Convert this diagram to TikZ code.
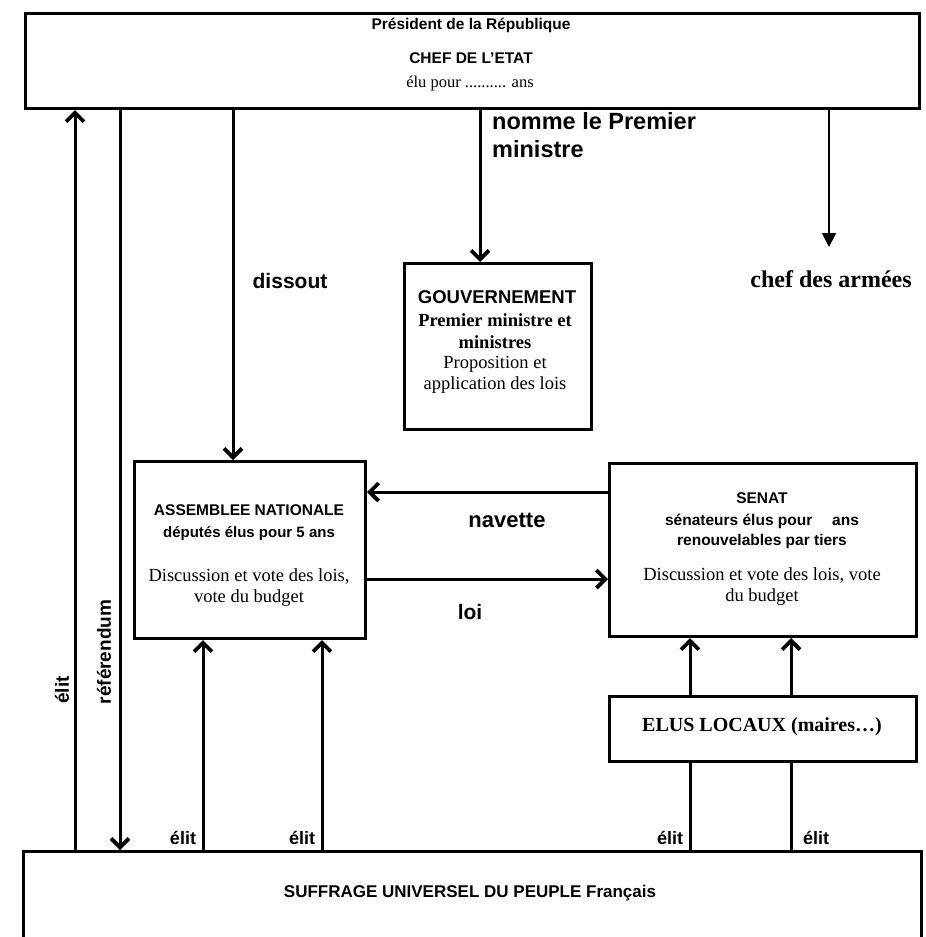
\documentclass[tikz,border=0pt]{standalone}
\usepackage{fontspec}
\setmainfont{Liberation Serif}
\setsansfont{Liberation Sans}
\usetikzlibrary{arrows.meta,calc}
\begin{document}
\begin{tikzpicture}[x=1pt,y=-1pt]
\tikzset{
  box/.style={draw, line width=3pt, inner sep=0pt, anchor=north west},
  arr/.style={line width=3pt, -{Straight Barb[length=9pt,width=18pt,line width=3.8pt]}},
  plain/.style={line width=3pt},
  sanslbl/.style={inner sep=0pt, font=\sffamily\bfseries\fontsize{15}{18}\selectfont},
  sansbig/.style={inner sep=0pt, font=\sffamily\bfseries\fontsize{21}{27}\selectfont},
  sansmid/.style={inner sep=0pt, font=\sffamily\bfseries\fontsize{15.5}{21}\selectfont},
  serif/.style={inner sep=0pt, align=center, font=\fontsize{18.5}{21}\selectfont},
  serifb/.style={inner sep=0pt, align=center, font=\bfseries\fontsize{18.5}{22}\selectfont}
}
\useasboundingbox (0,0) rectangle (926,937);
\fill[white] (0,0) rectangle (926,937);

% boxes
\node[box, minimum width=894pt, minimum height=95pt] (pres) at (24,12) {};
\node[box, minimum width=187pt, minimum height=166pt] (gouv) at (403,262) {};
\node[box, minimum width=231pt, minimum height=177pt] (an) at (133,460) {};
\node[box, minimum width=307pt, minimum height=173pt] (senat) at (608,462) {};
\node[box, minimum width=307pt, minimum height=65pt] (elus) at (608,695) {};
\node[box, minimum width=898pt, minimum height=120pt] (peuple) at (22,850) {};

% texts in boxes
\node[sanslbl, font=\sffamily\bfseries\fontsize{15.5}{18}\selectfont] (presT1) at (471,25) {Président de la République};
\node[sanslbl, font=\sffamily\bfseries\fontsize{15.5}{18}\selectfont] (presT2) at (471,58) {CHEF DE L'ETAT};
\node[serif, font=\fontsize{16.5}{20}\selectfont] (presT3) at (470,84) {élu pour .......... ans};

\node[sanslbl, font=\sffamily\bfseries\fontsize{18.5}{22}\selectfont] (gouvT1) at (497,297) {GOUVERNEMENT};
\node[serifb] (gouvT2) at (495,331) {Premier ministre et\\ministres};
\node[serif] (gouvT3) at (495,375) {Proposition et\\application des lois};

\node[sansmid] (anT1) at (249,510) {ASSEMBLEE NATIONALE};
\node[sansmid, font=\sffamily\bfseries\fontsize{15}{18}\selectfont] (anT2) at (249,534) {députés élus pour 5 ans};
\node[serif] (anT3) at (249,588) {Discussion et vote des lois,\\vote du budget};

\node[sansmid] (senT1) at (762,498) {SENAT};
\node[sansmid] (senT2) at (762,521) {sénateurs élus pour \quad ans};
\node[sansmid] (senT3) at (762,541) {renouvelables par tiers};
\node[serif] (senT4) at (762,587) {Discussion et vote des lois, vote\\du budget};

\node[serifb, font=\bfseries\fontsize{20}{24}\selectfont] (elusT) at (762,727) {ELUS LOCAUX (maires…)};
\node[sanslbl, font=\sffamily\bfseries\fontsize{17}{20}\selectfont] (peupleT) at (470,893) {SUFFRAGE UNIVERSEL DU PEUPLE Français};

% column coordinates
\coordinate (xElit) at (75,0);
\coordinate (xRef) at (120,0);
\coordinate (xDiss) at (233,0);
\coordinate (xNomme) at (480,0);
\coordinate (armees) at (829,247);
\coordinate (xA1) at (203,0);
\coordinate (xA2) at (322,0);
\coordinate (xS1) at (690,0);
\coordinate (xS2) at (791,0);
\coordinate (yNav) at (0,492);
\coordinate (yLoi) at (0,579);

% connectors
\draw[arr] (peuple.north -| xElit) -- (pres.south -| xElit);
\draw[arr] (pres.south -| xRef) -- (peuple.north -| xRef);
\draw[arr] (pres.south -| xDiss) -- (an.north -| xDiss);
\draw[arr] (pres.south -| xNomme) -- (gouv.north -| xNomme);
\draw[line width=2.2pt, -{Triangle[length=14pt,width=14pt]}] (pres.south -| armees) -- (armees);
\draw[arr] (senat.west |- yNav) -- (an.east |- yNav);
\draw[arr] (an.east |- yLoi) -- (senat.west |- yLoi);
\draw[arr] (peuple.north -| xA1) -- (an.south -| xA1);
\draw[arr] (peuple.north -| xA2) -- (an.south -| xA2);
\draw[arr] (elus.north -| xS1) -- (senat.south -| xS1);
\draw[arr] (elus.north -| xS2) -- (senat.south -| xS2);
\draw[plain] (peuple.north -| xS1) -- (elus.south -| xS1);
\draw[plain] (peuple.north -| xS2) -- (elus.south -| xS2);

% connector labels
\node[sansbig, align=left, anchor=north west, font=\sffamily\bfseries\fontsize{23.5}{28}\selectfont] (nommeL) at (492,112) {nomme le Premier\\ministre};
\node[sansbig, font=\sffamily\bfseries\fontsize{21}{25}\selectfont] (dissL) at (290,281) {dissout};
\node[serifb, font=\bfseries\fontsize{24}{28}\selectfont] (armL) at (831,279) {chef des armées};
\node[sansbig, font=\sffamily\bfseries\fontsize{22}{25}\selectfont] (navL) at (507,520) {navette};
\node[sansbig] (loiL) at (470,612) {loi};
\node[sansbig, font=\sffamily\bfseries\fontsize{19}{22}\selectfont, rotate=90] (elitV) at (62,690) {élit};
\node[sansbig, font=\sffamily\bfseries\fontsize{19}{22}\selectfont, rotate=90] (refV) at (104,652) {référendum};
\node[sansbig, font=\sffamily\bfseries\fontsize{18}{22}\selectfont] (elit1) at (183,838) {élit};
\node[sansbig, font=\sffamily\bfseries\fontsize{18}{22}\selectfont] (elit2) at (302,838) {élit};
\node[sansbig, font=\sffamily\bfseries\fontsize{18}{22}\selectfont] (elit3) at (670,838) {élit};
\node[sansbig, font=\sffamily\bfseries\fontsize{18}{22}\selectfont] (elit4) at (816,838) {élit};
\end{tikzpicture}
\end{document}
